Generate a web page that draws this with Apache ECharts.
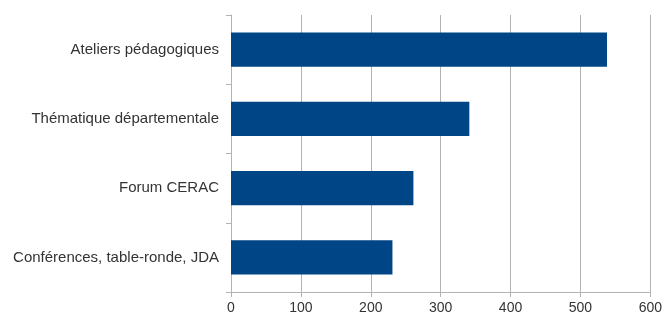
<!DOCTYPE html>
<html><head><meta charset="utf-8">
<script src="https://cdn.jsdelivr.net/npm/echarts@6/dist/echarts.min.js"></script>
<style>html,body{margin:0;padding:0;background:#fff}#c{width:665px;height:318px}</style>
</head><body><div id="c"></div>
<script>
const categories = ["Conférences, table-ronde, JDA", "Forum CERAC", "Thématique départementale", "Ateliers pédagogiques"];
const values = [231, 261, 341, 538];
const xTicks = [0, 100, 200, 300, 400, 500, 600];

const chart = echarts.init(document.getElementById('c'), null, {renderer: 'canvas'});
chart.setOption({
  animation: false,
  grid: {left: 231, right: 13, top: 15, bottom: 26, containLabel: false},
  xAxis: {
    type: 'value', min: xTicks[0], max: xTicks[xTicks.length - 1], interval: 100,
    axisLine: {show: true, lineStyle: {color: '#b3b3b3', width: 1}},
    axisTick: {show: true, length: 5, lineStyle: {color: '#b3b3b3'}},
    splitLine: {show: true, lineStyle: {color: '#b3b3b3', width: 1}},
    axisLabel: {color: '#333', fontFamily: 'Liberation Sans, Arial, sans-serif', fontSize: 14, margin: 9}
  },
  yAxis: {
    type: 'category', data: categories,
    axisLine: {show: true, lineStyle: {color: '#b3b3b3', width: 1}},
    axisTick: {show: true, length: 5, lineStyle: {color: '#b3b3b3'}},
    axisLabel: {color: '#333', fontFamily: 'Liberation Sans, Arial, sans-serif', fontSize: 15, margin: 12}
  },
  series: [{
    type: 'bar', data: values, barWidth: '49.5%',
    itemStyle: {color: '#004586'}
  }]
});
</script></body></html>
